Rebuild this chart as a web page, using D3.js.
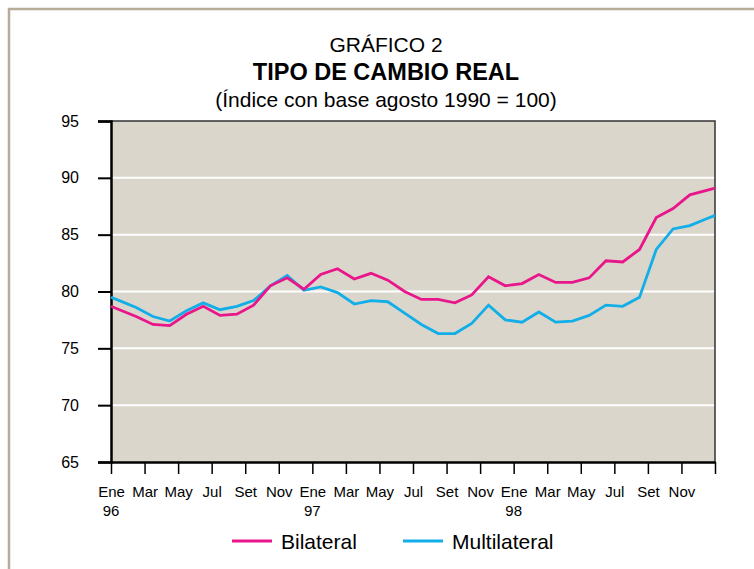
<!DOCTYPE html>
<html>
<head>
<meta charset="utf-8">
<script src="https://cdn.jsdelivr.net/npm/d3@7"></script>
<style>
  body { margin: 0; background: #fff; }
  svg { display: block; }
  text { font-family: 'Liberation Sans', Arial, sans-serif; fill: #000; }
</style>
</head>
<body>
<svg id="graph"></svg>
<script>
// months Ene 96 .. Dic 98
const bilateral = [
  78.4, 77.8, 77.1, 77.0, 78.0, 78.7, 77.9, 78.0, 78.8, 80.5, 81.2, 80.2,
  81.5, 82.0, 81.1, 81.6, 81.0, 80.0, 79.3, 79.3, 79.0, 79.7, 81.3, 80.5,
  80.7, 81.5, 80.8, 80.8, 81.2, 82.7, 82.6, 83.7, 86.5, 87.3, 88.5, 88.9
]
const multilateral = [
  79.2, 78.6, 77.8, 77.4, 78.3, 79.0, 78.4, 78.7, 79.2, 80.5, 81.4, 80.1,
  80.4, 79.9, 78.9, 79.2, 79.1, 78.1, 77.1, 76.3, 76.3, 77.2, 78.8, 77.5,
  77.3, 78.2, 77.3, 77.4, 77.9, 78.8, 78.7, 79.5, 83.7, 85.5, 85.8, 86.4
]
const monthLabels = ['Ene', 'Mar', 'May', 'Jul', 'Set', 'Nov']
const yearLabels = ['96', '97', '98']
const yTicks = [65, 70, 75, 80, 85, 90, 95]

document.addEventListener('DOMContentLoaded', function () {
  const width = 754
  const height = 569
  const margin = { top: 121, right: 39, bottom: 107, left: 111 }
  const nMonths = bilateral.length

  const colours = {
    pink: '#e8168a',
    blue: '#12aee8',
    plotBg: '#dbd6cc',
    frame: '#b6ad99'
  }

  const svg = d3.select('#graph')
    .attr('width', width)
    .attr('height', height)

  // outer frame (open on the right and bottom)
  svg.append('path')
    .attr('d', `M9,${height}V9H${width}`)
    .attr('fill', 'none')
    .attr('stroke', colours.frame)
    .attr('stroke-width', 2.5)

  const x = d3.scaleLinear()
    .domain([0, nMonths])
    .range([margin.left, width - margin.right])

  const y = d3.scaleLinear()
    .domain([65, 95])
    .range([height - margin.bottom, margin.top])

  // titles
  const cx = 386
  svg.append('text')
    .attr('x', cx).attr('y', 52)
    .attr('text-anchor', 'middle')
    .style('font-size', '21px')
    .text('GRÁFICO 2')
  svg.append('text')
    .attr('x', cx).attr('y', 80)
    .attr('text-anchor', 'middle')
    .style('font-size', '23.5px')
    .style('font-weight', 'bold')
    .text('TIPO DE CAMBIO REAL')
  svg.append('text')
    .attr('x', cx).attr('y', 107)
    .attr('text-anchor', 'middle')
    .style('font-size', '21px')
    .text('(Índice con base agosto 1990 = 100)')

  // plot background
  svg.append('rect')
    .attr('x', x(0))
    .attr('y', y(95))
    .attr('width', x(nMonths) - x(0))
    .attr('height', y(65) - y(95))
    .attr('fill', colours.plotBg)

  // grid lines
  svg.append('g')
    .selectAll('line')
    .data(yTicks.filter(d => d > 65 && d < 95))
    .enter()
    .append('line')
    .attr('x1', x(0))
    .attr('x2', x(nMonths))
    .attr('y1', d => y(d))
    .attr('y2', d => y(d))
    .attr('stroke', '#fff')
    .attr('stroke-width', 2)

  // plot border top / right
  svg.append('path')
    .attr('d', `M${x(0)},${y(95)}H${x(nMonths)}V${y(65)}`)
    .attr('fill', 'none')
    .attr('stroke', '#333')
    .attr('stroke-width', 1.5)

  // y axis
  const yAxis = svg.append('g')
    .attr('transform', `translate(${x(0)},0)`)
    .call(d3.axisLeft(y).tickValues(yTicks).tickSize(13).tickPadding(19))
  yAxis.select('.domain').attr('stroke', '#000').attr('stroke-width', 2.5)
  yAxis.selectAll('.tick line').attr('stroke', '#000').attr('stroke-width', 2)
  yAxis.selectAll('.tick text')
    .style('font-size', '16px')
    .style('font-family', "'Liberation Sans', Arial, sans-serif")

  // x axis
  const xTicks = d3.range(0, nMonths + 1, 2)
  const xAxis = svg.append('g')
    .attr('transform', `translate(0,${y(65)})`)
    .call(d3.axisBottom(x).tickValues(xTicks).tickSize(12).tickSizeOuter(0)
      .tickFormat(d => d < nMonths ? monthLabels[(d / 2) % 6] : ''))
  xAxis.select('.domain').attr('stroke', '#000').attr('stroke-width', 2.5)
  xAxis.selectAll('.tick line').attr('stroke', '#000').attr('stroke-width', 1.5)
  xAxis.selectAll('.tick text')
    .attr('y', 24)
    .style('font-size', '15px')
    .style('font-family', "'Liberation Sans', Arial, sans-serif")

  svg.append('g')
    .selectAll('text')
    .data(yearLabels)
    .enter()
    .append('text')
    .attr('x', (d, i) => x(i * 12))
    .attr('y', y(65) + 54)
    .attr('text-anchor', 'middle')
    .style('font-size', '15px')
    .text(d => d)

  // series lines: points at month centres, first and last segment
  // carried on to the plot edges as in the original
  const toPoints = values => {
    const pts = values.map((v, i) => [x(i + 0.5), y(v)])
    const n = values.length
    const start = [x(0), y(values[0] - (values[1] - values[0]) / 2)]
    const end = [x(n), y(values[n - 1] + (values[n - 1] - values[n - 2]) / 2)]
    return [start, ...pts, end]
  }

  const drawSeries = (values, colour) => {
    svg.append('path')
      .datum(toPoints(values))
      .attr('d', d3.line())
      .attr('fill', 'none')
      .attr('stroke', colour)
      .attr('stroke-width', 2.8)
  }
  drawSeries(multilateral, colours.blue)
  drawSeries(bilateral, colours.pink)

  // legend
  const legend = [
    { name: 'Bilateral', colour: colours.pink, x: 232 },
    { name: 'Multilateral', colour: colours.blue, x: 403 }
  ]
  const lg = svg.append('g').selectAll('g').data(legend).enter().append('g')
    .attr('transform', d => `translate(${d.x},541)`)
  lg.append('line')
    .attr('x1', 0).attr('x2', 40)
    .attr('stroke', d => d.colour)
    .attr('stroke-width', 3)
  lg.append('text')
    .attr('x', 49).attr('y', 7.5)
    .style('font-size', '21px')
    .text(d => d.name)
}, false)
</script>
</body>
</html>
